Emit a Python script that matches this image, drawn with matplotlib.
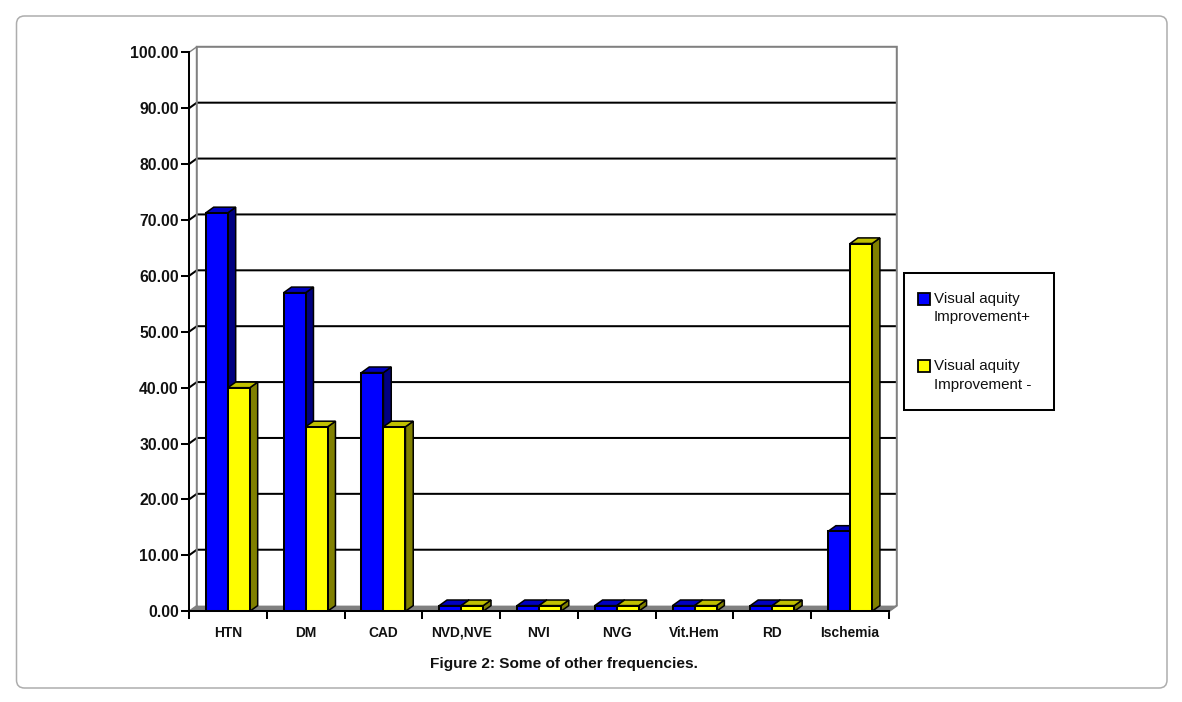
import numpy as np
import matplotlib
matplotlib.use("Agg")
import matplotlib.pyplot as plt
from matplotlib.patches import FancyBboxPatch, Polygon, Rectangle
from matplotlib.legend_handler import HandlerPatch

categories = ["HTN", "DM", "CAD", "NVD,NVE", "NVI", "NVG", "Vit.Hem", "RD", "Ischemia"]
improved = [71.3, 57.0, 42.7, 1.0, 1.0, 1.0, 1.0, 1.0, 14.3]
not_improved = [40.0, 33.0, 33.0, 1.0, 1.0, 1.0, 1.0, 1.0, 65.8]
yticks = [0, 10, 20, 30, 40, 50, 60, 70, 80, 90, 100]
series_names = ["Visual aquity\nImprovement+", "Visual aquity\nImprovement -"]

W, H = 1182, 702
plt.rcParams['font.family'] = ['Liberation Sans', 'DejaVu Sans']
fig = plt.figure(figsize=(W / 100, H / 100), dpi=100, facecolor='white')

# card
bg = fig.add_axes([0, 0, 1, 1], zorder=0)
bg.set_xlim(0, W); bg.set_ylim(H, 0); bg.axis('off')
bg.add_patch(FancyBboxPatch((16.5, 16), 1150.5, 672, boxstyle="round,pad=0,rounding_size=8",
                            fc='white', ec='#adadad', lw=1.1))

L, R, B, T = 189.0, 889.0, 611.2, 52.4
ax = fig.add_axes([L / W, 1 - B / H, (R - L) / W, (B - T) / H], zorder=1)
ax.patch.set_alpha(0)
n = len(categories)
ax.set_xlim(0, n)
ax.set_ylim(0, 100)
px = n / (R - L)
py = 100 / (B - T)
dx, dy = 7.8 * px, 5.6 * py
lw = 1.45

# floor and walls
ax.add_patch(Polygon([(0, 0), (dx, dy), (n + dx, dy), (n, 0)], closed=True, fc='#808080', ec='none',
                     clip_on=False, zorder=1))
for v in yticks:
    if v in (0, 100):
        continue
    ax.plot([0, dx, n + dx], [v, v + dy, v + dy], color='black', lw=lw, clip_on=False, zorder=2,
            solid_capstyle='butt', solid_joinstyle='miter')
ax.plot([n, n + dx, n + dx, dx, dx], [0, dy, 100 + dy, 100 + dy, dy], color='#808080', lw=lw,
        clip_on=False, zorder=2, solid_joinstyle='miter')
ax.plot([0, dx], [100, 100 + dy], color='#808080', lw=1.0, clip_on=False, zorder=2)
ax.plot([0, dx], [0, dy], color='#808080', lw=1.0, clip_on=False, zorder=2)

bw = 22 * px
def bar3d(x0, v, front, top, side, z):
    ek = dict(ec='black', lw=1.1, clip_on=False, zorder=z, joinstyle='miter')
    ax.add_patch(Polygon([(x0 + bw, 0), (x0 + bw + dx, dy), (x0 + bw + dx, v + dy), (x0 + bw, v)],
                         closed=True, fc=side, **ek))
    ax.add_patch(Polygon([(x0, v), (x0 + dx, v + dy), (x0 + bw + dx, v + dy), (x0 + bw, v)],
                         closed=True, fc=top, **ek))
    ax.add_patch(Rectangle((x0, 0), bw, v, fc=front, ec='black', lw=1.45, clip_on=False,
                           zorder=z, joinstyle='miter'))

for i in range(n):
    c = i + 0.5
    bar3d(c - bw, improved[i], '#0000ff', '#0000c0', '#000080', 3 + i * 0.1)
    bar3d(c, not_improved[i], '#ffff00', '#c0c000', '#808000', 3.05 + i * 0.1)

# axes
for s in ('top', 'right'):
    ax.spines[s].set_visible(False)
for s in ('left', 'bottom'):
    ax.spines[s].set_linewidth(lw)
    ax.spines[s].set_zorder(6)
ax.set_yticks(yticks)
ax.set_yticklabels([f"{v:.2f}" for v in yticks], fontsize=11.3, fontweight='bold', color='#111111')
ax.tick_params(axis='y', length=5.8, width=lw, pad=1.5)
ax.set_xticks(np.arange(n + 1))
ax.set_xticklabels([])
ax.tick_params(axis='x', which='major', length=6, width=lw)
ax.set_xticks(np.arange(n) + 0.5, minor=True)
ax.set_xticklabels(categories, minor=True, fontsize=9.9, fontweight='bold', color='#111111')
ax.tick_params(axis='x', which='minor', length=0, pad=10.4)

fig.text(564 / W, 1 - 664.2 / H, "Figure 2: Some of other frequencies.", ha='center', va='center',
         fontsize=11.05, fontweight='bold', color='#111111')

# legend: swatch sits left of and level with the first text line
def swatch(legend, orig_handle, xdescent, ydescent, width, height, fontsize):
    return Rectangle((-0.33 * fontsize, 0.58 * fontsize), 0.8 * fontsize, 0.8 * fontsize)

handles = [Rectangle((0, 0), 1, 1, fc='#0000ff', ec='black', lw=1.3),
           Rectangle((0, 0), 1, 1, fc='#ffff00', ec='black', lw=1.3)]
hm = {h: HandlerPatch(patch_func=swatch) for h in handles}
leg = fig.legend(handles, series_names, loc='upper left',
                 bbox_to_anchor=(904 / W, 1 - 411 / H, 150 / W, 138 / H), bbox_transform=fig.transFigure,
                 mode='expand', handler_map=hm,
                 fancybox=False, framealpha=1, edgecolor='black', fontsize=10.9,
                 handlelength=0.52, handleheight=0.85, handletextpad=0.2, labelspacing=2.3,
                 borderpad=1.25, borderaxespad=0, labelcolor='#111111')
for t in leg.get_texts():
    t.set_linespacing(1.4)
leg.get_frame().set_linewidth(lw)
leg.set_zorder(10)

fig.savefig("out.png", dpi=100, facecolor='white')
